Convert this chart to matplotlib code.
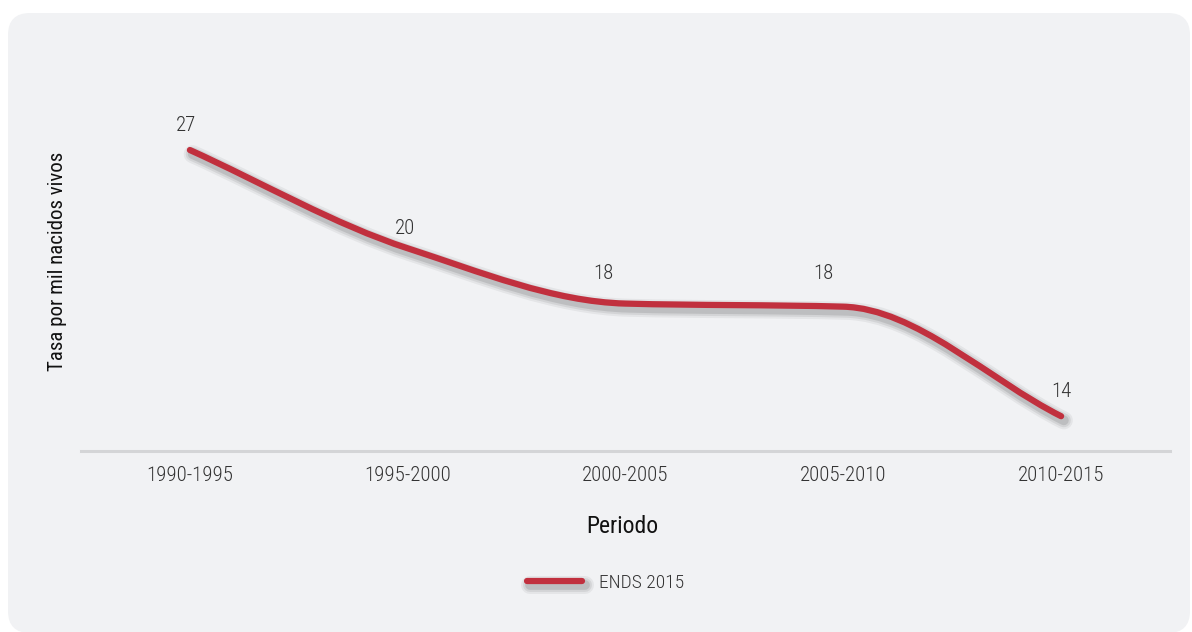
import matplotlib
matplotlib.use("Agg")
import matplotlib.pyplot as plt
import matplotlib.patheffects as pe
from matplotlib.path import Path
from matplotlib.patches import PathPatch, FancyBboxPatch
from matplotlib.lines import Line2D

# Data
periodos = ["1990-1995", "1995-2000", "2000-2005", "2005-2010", "2010-2015"]
tasa = [27, 22.2, 19.5, 19.35, 14]          # line height as drawn
etiquetas = ["27", "20", "18", "18", "14"]  # printed data labels
serie = "ENDS 2015"

plt.rcParams["font.family"] = ["Roboto Condensed", "DejaVu Sans"]

fig = plt.figure(figsize=(11.92, 6.32), dpi=100)
fig.patch.set_facecolor("white")

# rounded grey panel
panel = FancyBboxPatch((0.08, -0.01), 11.82, 6.20,
                       boxstyle="round,pad=0,rounding_size=0.22",
                       transform=fig.dpi_scale_trans, facecolor="#f1f2f4",
                       edgecolor="none", zorder=-10)
fig.patches.append(panel)

ax = fig.add_axes([81 / 1192, 1 - 451 / 632, (1170 - 81) / 1192, (451 - 88.6) / 632])
ax.set_facecolor("none")
ax.set_xlim(-0.5, 4.5)
ax.set_ylim(12.3, 30)

# smoothed line: monotone cubic through the points, drawn as bezier path
x = list(range(len(tasa)))
d = [tasa[i + 1] - tasa[i] for i in range(len(tasa) - 1)]
m = [d[0]]
for i in range(1, len(tasa) - 1):
    if d[i - 1] * d[i] > 0:
        m.append(2 * d[i - 1] * d[i] / (d[i - 1] + d[i]))
    else:
        m.append(0.0)
m.append(d[-1])
verts = [(x[0], tasa[0])]
codes = [Path.MOVETO]
for i in range(len(tasa) - 1):
    verts += [(x[i] + 1 / 3, tasa[i] + m[i] / 3),
              (x[i + 1] - 1 / 3, tasa[i + 1] - m[i + 1] / 3),
              (x[i + 1], tasa[i + 1])]
    codes += [Path.CURVE4] * 3

sombra = [
    pe.SimpleLineShadow(offset=(2, -3), shadow_color="#000000", alpha=0.05, linewidth=13),
    pe.SimpleLineShadow(offset=(2, -3), shadow_color="#000000", alpha=0.07, linewidth=10),
    pe.SimpleLineShadow(offset=(2, -3), shadow_color="#000000", alpha=0.10, linewidth=7),
    pe.Normal(),
]
linea = PathPatch(Path(verts, codes), facecolor="none", edgecolor="#c1303e",
                  linewidth=4.5, capstyle="round", joinstyle="round", zorder=3)
linea.set_path_effects(sombra)
ax.add_patch(linea)

offsets = [(-3, 18), (-2, 14), (-16, 22), (-14, 24), (0, 18)]
for xi, yi, txt, off in zip(x, tasa, etiquetas, offsets):
    ax.annotate(txt, (xi, yi), xytext=off, textcoords="offset points",
                ha="center", va="center", fontsize=15, color="#333333",
                fontweight="light")

ax.set_xticks(x)
ax.set_xticklabels(periodos, fontsize=15, color="#333333", fontweight="light")
ax.tick_params(axis="x", length=0, pad=11)
ax.set_yticks([])
for s in ["top", "right", "left"]:
    ax.spines[s].set_visible(False)
ax.spines["bottom"].set_color("#d4d5d7")
ax.spines["bottom"].set_linewidth(2.2)

ax.set_xlabel("Periodo", fontsize=17, color="#111111")
ax.xaxis.set_label_coords(622 / 1192, 1 - 515 / 632, transform=fig.transFigure)
ax.set_ylabel("Tasa por mil nacidos vivos", fontsize=15, color="#111111")
ax.yaxis.set_label_coords(67 / 1192, 1 - 261 / 632, transform=fig.transFigure)

proxy = Line2D([], [], color="#c1303e", linewidth=4.5, solid_capstyle="round",
               path_effects=sombra)
leg = ax.legend([proxy], [serie], loc="center",
                bbox_to_anchor=(606 / 1192, 1 - 583 / 632),
                bbox_transform=fig.transFigure, frameon=False,
                prop={"size": 14, "weight": "light"},
                handlelength=2.8, handletextpad=0.9, labelcolor="#333333")

fig.savefig("out.png", dpi=100, facecolor="white")
